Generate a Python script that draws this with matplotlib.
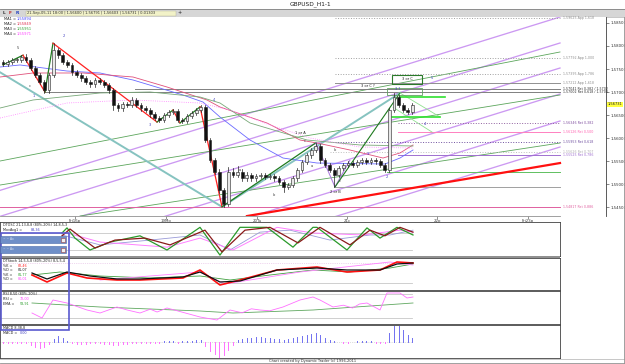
import matplotlib
matplotlib.use('Agg')
import matplotlib.pyplot as plt
from matplotlib.patches import Rectangle
from matplotlib.ticker import FuncFormatter

W, H = 625, 364

# ---------------- DATA ----------------
opens = [1.5765, 1.5761, 1.5765, 1.5770, 1.5770, 1.5776, 1.5770, 1.5752, 1.5737, 1.5722,
         1.5704, 1.5737, 1.5791, 1.5780, 1.5765, 1.5759, 1.5743, 1.5737, 1.5730, 1.5722,
         1.5717, 1.5726, 1.5722, 1.5715, 1.5704, 1.5672, 1.5665, 1.5674, 1.5672, 1.5683,
         1.5672, 1.5665, 1.5661, 1.5652, 1.5644, 1.5639, 1.5650, 1.5657, 1.5659, 1.5639,
         1.5637, 1.5648, 1.5655, 1.5661, 1.5668, 1.5596, 1.5553, 1.5527, 1.5487, 1.5457,
         1.5527, 1.5520, 1.5527, 1.5513, 1.5520, 1.5513, 1.5518, 1.5520, 1.5516, 1.5518,
         1.5513, 1.5505, 1.5494, 1.5498, 1.5513, 1.5531, 1.5548, 1.5563, 1.5574, 1.5583,
         1.5552, 1.5542, 1.5531, 1.5520, 1.5535, 1.5542, 1.5546, 1.5542, 1.5548, 1.5552,
         1.5548, 1.5552, 1.5550, 1.5542, 1.5531, 1.5661, 1.5689, 1.5672, 1.5661, 1.5657]
closes = [1.5761, 1.5765, 1.5770, 1.5770, 1.5776, 1.5770, 1.5752, 1.5737, 1.5722, 1.5704,
          1.5737, 1.5791, 1.5780, 1.5765, 1.5759, 1.5743, 1.5737, 1.5730, 1.5722, 1.5717,
          1.5726, 1.5722, 1.5715, 1.5704, 1.5672, 1.5665, 1.5674, 1.5672, 1.5683, 1.5672,
          1.5665, 1.5661, 1.5652, 1.5644, 1.5639, 1.5650, 1.5657, 1.5659, 1.5639, 1.5637,
          1.5648, 1.5655, 1.5661, 1.5668, 1.5596, 1.5553, 1.5527, 1.5487, 1.5457, 1.5527,
          1.5520, 1.5527, 1.5513, 1.5520, 1.5513, 1.5518, 1.5520, 1.5516, 1.5518, 1.5513,
          1.5505, 1.5494, 1.5498, 1.5513, 1.5531, 1.5548, 1.5563, 1.5574, 1.5583, 1.5552,
          1.5542, 1.5531, 1.5520, 1.5535, 1.5542, 1.5546, 1.5542, 1.5548, 1.5552, 1.5548,
          1.5552, 1.5550, 1.5542, 1.5531, 1.5661, 1.5689, 1.5672, 1.5661, 1.5657, 1.5672]
highs = [1.5770, 1.5770, 1.5775, 1.5775, 1.5781, 1.5782, 1.5775, 1.5757, 1.5742, 1.5727,
         1.5742, 1.5806, 1.5796, 1.5785, 1.5770, 1.5764, 1.5748, 1.5742, 1.5735, 1.5727,
         1.5731, 1.5731, 1.5727, 1.5720, 1.5709, 1.5677, 1.5679, 1.5679, 1.5690, 1.5688,
         1.5677, 1.5670, 1.5666, 1.5657, 1.5649, 1.5655, 1.5662, 1.5664, 1.5664, 1.5644,
         1.5653, 1.5660, 1.5666, 1.5673, 1.5673, 1.5601, 1.5558, 1.5532, 1.5492, 1.5537,
         1.5535, 1.5540, 1.5532, 1.5527, 1.5525, 1.5523, 1.5525, 1.5525, 1.5523, 1.5523,
         1.5518, 1.5510, 1.5503, 1.5518, 1.5536, 1.5553, 1.5568, 1.5579, 1.5590, 1.5588,
         1.5557, 1.5547, 1.5536, 1.5540, 1.5547, 1.5551, 1.5551, 1.5553, 1.5557, 1.5557,
         1.5557, 1.5557, 1.5555, 1.5547, 1.5666, 1.5698, 1.5694, 1.5677, 1.5666, 1.5677]
lows = [1.5756, 1.5756, 1.5760, 1.5765, 1.5765, 1.5765, 1.5747, 1.5732, 1.5717, 1.5699,
        1.5699, 1.5732, 1.5775, 1.5760, 1.5754, 1.5738, 1.5732, 1.5725, 1.5717, 1.5712,
        1.5712, 1.5717, 1.5710, 1.5699, 1.5661, 1.5660, 1.5660, 1.5667, 1.5667, 1.5667,
        1.5660, 1.5656, 1.5647, 1.5639, 1.5634, 1.5634, 1.5645, 1.5652, 1.5634, 1.5632,
        1.5632, 1.5643, 1.5650, 1.5656, 1.5591, 1.5548, 1.5522, 1.5482, 1.5451, 1.5452,
        1.5515, 1.5515, 1.5508, 1.5508, 1.5508, 1.5508, 1.5513, 1.5511, 1.5511, 1.5508,
        1.5500, 1.5483, 1.5489, 1.5493, 1.5508, 1.5526, 1.5543, 1.5558, 1.5569, 1.5547,
        1.5537, 1.5526, 1.5494, 1.5515, 1.5530, 1.5537, 1.5537, 1.5537, 1.5543, 1.5543,
        1.5543, 1.5545, 1.5537, 1.5526, 1.5526, 1.5656, 1.5667, 1.5656, 1.5652, 1.5652]

# moving averages (bar, price)
ma1_x = [-0.65, 3.70, 13.91, 21.09, 28.26, 39.13, 43.48, 47.17, 53.70, 60.87, 68.26, 83.04, 86.30, 89.13]
ma1_y = [1.57544, 1.57588, 1.57457, 1.57414, 1.57262, 1.56936, 1.56784, 1.56459, 1.55960, 1.55569, 1.55461, 1.55439, 1.55569, 1.55743]
ma2_x = [-0.65, 6.52, 17.39, 28.26, 35.65, 44.35, 47.17, 57.39, 64.57, 68.26, 75.43, 82.61, 86.30, 89.13]
ma2_y = [1.57327, 1.57414, 1.57414, 1.57327, 1.57110, 1.56828, 1.56676, 1.56329, 1.55960, 1.55895, 1.55743, 1.55569, 1.55678, 1.55852]
ma3_x = [-0.65, 6.52, 21.09, 31.96, 42.83, 47.17, 53.70, 66.09, 77.61, 89.13]
ma3_y = [1.56654, 1.56828, 1.56980, 1.57002, 1.56893, 1.56763, 1.56329, 1.55960, 1.55852, 1.55830]
ma4_x = [-0.65, 13.91, 28.26, 42.83, 49.35, 58.04, 66.74, 77.61, 89.13]
ma4_y = [1.56437, 1.56763, 1.56828, 1.56763, 1.56611, 1.56286, 1.56003, 1.55808, 1.55786]

# zigzag wave segments
zig_x = [0.0, 4.35, 9.13, 10.87, 33.48, 36.96, 38.48, 42.83, 47.61, 68.04]
zig_y = [1.5759, 1.5780, 1.5700, 1.5806, 1.5635, 1.5661, 1.5633, 1.5668, 1.5451, 1.5590]
wave2_x = [68.04, 72.17, 75.40]
wave2_y = [1.5590, 1.5494, 1.5552]
wave3_x = [72.17, 86.30]
wave3_y = [1.5494, 1.5698]
teal_x = [-0.65, 47.61, 86.30]
teal_y = [1.5743, 1.5451, 1.5698]
red_trend_x = [53.04, 121.09]
red_trend_y = [1.5431, 1.5546]

# fan / channel lines (start price at bar -0.65, end price at bar 121.09)
fan_start = [1.54867, 1.54303, 1.53760, 1.53196, 1.52610, 1.52046]
fan_end = [1.58629, 1.58065, 1.57522, 1.56958, 1.56372, 1.55808]
green_x0 = [-0.65, -0.65, 16.74]
green_y0 = [1.55504, 1.54983, 1.54311]
green_y1 = [1.57870, 1.56937, 1.55895]

# horizontal levels
lvl_price = [1.58607, 1.57739, 1.57392, 1.57197, 1.57067, 1.57002, 1.56329, 1.56134,
             1.55917, 1.55700, 1.55635, 1.55266, 1.54940, 1.54506]
lvl_start = [72.17, 72.17, 72.17, 72.17, 28.70, 9.13, 85.87, 85.87,
             72.17, 71.09, 85.87, 83.48, 72.17, -0.65]
lvl_color = ['#a0a0a0', '#a0a0a0', '#a0a0a0', '#909090', '#808080', '#808080', '#9060a0', '#ff80c0',
             '#7050a0', '#c0c0c0', '#a070d0', '#60c060', '#a0a0a0', '#e060a0']
lvl_style = [':', ':', ':', '-', '-', '-', ':', '-', ':', ':', '-', '-', '-', '-']
lvl_label = ['1,59625 App 1,618', '1,57792 App 1,000', '1,57395 App 1,786', '1,57212 App 1,618',
             '1,57041 Ret 0,382 / 1,5702', '1,57002 Ret 0,618 / 1,5700', '1,56346 Ret 0,382', '1,56126 Ret 0,500',
             '1,55953 Ret 0,618', '1,55626 Ret 0,707', '1,55525 Ret 0,786', '', '', '1,54817 Ret 0,886']
lvl_lcolor = ['#909090', '#909090', '#909090', '#909090', '#303030', '#303030', '#8050a0', '#ff60b0',
              '#7050a0', '#b0b0b0', '#a070d0', '#000000', '#000000', '#e060a0']

# wave labels
lab_text = ['5', '2', 'c', '1', '3', '4', 'a', 'b', '1 or A', 'c', 'b', 'a', 'c', '2 or B',
            '1', '2', '3 or C ?', '3 ?', '3 or C', '5', '4']
lab_x = [3.26, 13.26, 5.87, 6.74, 31.96, 45.87, 51.52, 58.91, 64.57, 65.65, 72.17, 67.17, 73.26, 72.17,
         79.35, 83.48, 79.35, 85.87, 87.83, 93.26, 91.74]
lab_y = [1.5796, 1.5822, 1.5713, 1.5691, 1.5629, 1.5683, 1.5531, 1.5477, 1.5611, 1.5594, 1.5574, 1.5540,
         1.5507, 1.5483, 1.5566, 1.5516, 1.5713, 1.5707, 1.5728, 1.5731, 1.5631]
lab_color = ['#404040', '#4040c0', '#404040', '#4040c0', '#4040c0', '#4040c0', '#404040', '#404040',
             '#202020', '#404040', '#404040', '#404040', '#404040', '#202020',
             '#4040c0', '#4040c0', '#202020', '#4040c0', '#202020', '#4040c0', '#4040c0']

price_ticks = [1.545, 1.550, 1.555, 1.560, 1.565, 1.570, 1.575, 1.580, 1.585]
date_ticks = [15.65, 35.43, 55.22, 74.78, 94.35, 114.13]
date_labels = ['Fri16p', '19Mo', '20Tu', '21c', '22p', 'Fri23p']
last_price = 1.56731

# oscillators
dtosc_g_x = [12.83, 13.91, 15.65, 18.91, 23.26, 29.78, 35.65, 42.83, 47.17, 51.52, 57.39, 63.04, 67.39, 68.26, 74.78, 79.13, 81.96, 85.65, 89.13]
dtosc_g_y = [80, 98, 62, 20, 48, 70, 20, 100, 2, 100, 100, 30, 100, 100, 20, 98, 62, 100, 73]
dtosc_r_x = [12.83, 14.57, 20.0, 24.35, 30.87, 36.30, 43.91, 47.61, 52.61, 58.04, 64.13, 68.91, 75.43, 79.78, 83.04, 86.30, 89.13]
dtosc_r_y = [70, 94, 27, 55, 62, 38, 90, 13, 90, 100, 45, 100, 38, 90, 70, 100, 83]
dtosc_l_x = [12.83, 21.09, 31.96, 42.83, 49.35, 55.87, 62.39, 71.09, 79.78, 84.13, 89.13]
dtosc_l_y = [73, 38, 55, 73, 20, 83, 90, 55, 73, 73, 90]
dtosc_p_x = [13.91, 21.09, 35.65, 42.83, 50.0, 59.57, 67.39, 78.26, 86.30, 89.13]
dtosc_p_y = [80, 48, 30, 62, 20, 100, 80, 73, 90, 83]

st_r_x = [6.30, 9.57, 13.91, 18.26, 24.78, 29.78, 39.13, 42.83, 47.17, 51.52, 59.57, 68.26, 74.78, 81.96, 85.65, 89.13]
st_r_y = [44, 23, 50, 35, 29, 29, 35, 59, 14, 29, 59, 68, 53, 59, 83, 80]
st_k_x = [6.30, 9.57, 13.91, 18.91, 24.78, 29.78, 39.13, 42.83, 47.17, 51.52, 59.57, 68.26, 74.78, 81.96, 85.65, 89.13]
st_k_y = [50, 32, 53, 41, 32, 32, 38, 53, 23, 26, 59, 65, 59, 59, 77, 80]
st_g_x = [6.30, 12.39, 21.09, 31.96, 42.83, 49.35, 58.04, 67.39, 75.43, 84.13, 89.13]
st_g_y = [44, 53, 41, 35, 41, 29, 44, 59, 53, 65, 77]
st_p_x = [21.09, 42.83, 48.26, 64.57, 84.13, 89.13]
st_p_y = [29, 53, 17, 53, 83, 74]

rsi_x = [6.30, 8.48, 10.87, 13.91, 18.26, 21.09, 24.78, 27.0, 29.78, 32.0, 33.5, 35.65, 42.83, 46.52, 49.35,
         52.0, 54.0, 55.87, 58.0, 60.87, 64.57, 67.39, 68.91, 71.74, 74.0, 76.0, 77.5, 79.13, 81.96, 83.48,
         86.30, 87.83, 89.13]
rsi_y = [32.5, 20, 65, 57.5, 40, 32.5, 47.5, 40, 32.5, 42, 35, 45, 22.5, 15, 40,
         33, 43, 40, 38, 47.5, 65, 72.5, 65, 47.5, 52, 45, 55, 57.5, 40, 82.5,
         82.5, 70, 72.5]
ema_x = [6.30, 21.09, 42.83, 50.0, 67.39, 89.13]
ema_y = [57.5, 47.5, 37.5, 32.5, 40, 57.5]

macd_hist = [-1, -1, -1, -1, -1, -1, -3, -5, -6, -5, -2, 3, 6, 4, 1, -1, -2, -2, -2, -1,
             -1, -1, -2, -2, -3, -3, -2, -2, -1, -1, -1, -1, -1, -1, -1, 1, 1, 1, -1, 1,
             1, 1, 2, 2, -4, -9, -12, -15, -13, -8, -3, 2, 3, 4, 4, 5, 5, 4, 4, 3,
             3, 2, 3, 4, 5, 6, 7, 8, 9, 7, 4, 2, 1, 0.5, -0.5, -0.5, 0.5, 1, 1, 1,
             1, -0.5, -0.5, -1, 9, 16, 16, 12, 7, 4]

# ---------------- FIGURE ----------------
plt.rcParams['font.family'] = ['DejaVu Sans']
fig = plt.figure(figsize=(6.25, 3.64), dpi=100)
fig.patch.set_facecolor('white')


def rect(x0, y0, x1, y1):
    return [x0 / W, 1 - y1 / H, (x1 - x0) / W, (y1 - y0) / H]


# overlay axes for chrome in pixel coordinates
chrome = fig.add_axes([0, 0, 1, 1], zorder=-5)
chrome.set_xlim(0, W)
chrome.set_ylim(H, 0)
chrome.axis('off')
chrome.add_patch(Rectangle((0, 9), W, 8, facecolor='#d6d6d6', edgecolor='none'))
chrome.plot([0, W], [9, 9], color='#808080', lw=0.6)
chrome.plot([0, W], [17, 17], color='#b0b0b0', lw=0.5)
chrome.text(310, 4.5, 'GBPUSD_H1-1', fontsize=4.2, ha='center', va='center', color='#202020')
chrome.text(3, 13, 'L', fontsize=3.2, color='#303030', va='center', weight='bold')
chrome.text(9, 13, 'F', fontsize=3.2, color='#c02020', va='center', weight='bold')
chrome.text(16, 13, 'R', fontsize=3.2, color='#2040c0', va='center', weight='bold')
chrome.add_patch(Rectangle((26, 10.5), 150, 5, facecolor='#f2f2c8', edgecolor='#b0b0a0', lw=0.3))
chrome.text(27, 13, '21-Sep-05-11 18:00 | 1,56600 | 1,56791 | 1,56603 | 1,56731 | 0,01303',
            fontsize=2.6, va='center', color='#303030')
chrome.text(180, 13, '+', fontsize=3.5, va='center', ha='center', color='#202020')

# ---------------- MAIN PRICE AXES ----------------
ax = fig.add_axes(rect(0, 17, 606, 216))
ax.set_xlim(-0.652, 131.09)
ax.set_ylim(1.54311, 1.58629)
ax.set_facecolor('white')
for s in ['top', 'left']:
    ax.spines[s].set_visible(False)
ax.spines['right'].set_color('#404040')
ax.spines['right'].set_linewidth(0.6)
ax.spines['bottom'].set_color('#909090')
ax.spines['bottom'].set_linewidth(0.6)
ax.spines['bottom'].set_bounds(-0.652, 121.09)
ax.yaxis.tick_right()
ax.set_yticks(price_ticks)
ax.yaxis.set_major_formatter(FuncFormatter(lambda v, p: ('%.5f' % v).replace('.', ',')))
ax.tick_params(axis='y', labelsize=2.8, length=2, width=0.4, pad=1, colors='#303030', direction='out')
ax.set_xticks(date_ticks)
ax.set_xticklabels(date_labels)
ax.tick_params(axis='x', labelsize=2.8, length=2, width=0.4, pad=0.5, colors='#404040', direction='out')

# fan lines (purple)
for a, b in zip(fan_start, fan_end):
    ax.plot([-0.65, 121.09], [a, b], color='#cc99f2', lw=0.95, zorder=1)
# green channel lines
for x0, y0, y1 in zip(green_x0, green_y0, green_y1):
    ax.plot([x0, 121.09], [y0, y1], color='#5ca65c', lw=0.6, zorder=1)

# horizontal levels
for p, s, c, ls, lab, lc in zip(lvl_price, lvl_start, lvl_color, lvl_style, lvl_label, lvl_lcolor):
    ax.plot([s, 121.09], [p, p], color=c, lw=0.7, ls=ls, zorder=1)
    if lab:
        ax.text(121.8, p, lab, fontsize=2.3, color=lc, va='center', ha='left')

# teal, red trend
ax.plot(teal_x, teal_y, color='#86c3c0', lw=1.4, zorder=2)
ax.plot(red_trend_x, red_trend_y, color='#ff1010', lw=1.6, zorder=2)

# moving averages
ax.plot(ma1_x, ma1_y, color='#6a6aff', lw=0.6, zorder=2)
ax.plot(ma2_x, ma2_y, color='#e0507a', lw=0.6, zorder=2)
ax.plot(ma3_x, ma3_y, color='#78a878', lw=0.6, zorder=2)
ax.plot(ma4_x, ma4_y, color='#ff80ff', lw=0.6, ls=':', zorder=2)

# zigzag segments
for i in range(len(zig_x) - 1):
    up = zig_y[i + 1] > zig_y[i]
    ax.plot(zig_x[i:i + 2], zig_y[i:i + 2], color='#1e7a1e' if up else '#ff2020', lw=0.9, zorder=3)
ax.plot(wave2_x, wave2_y, color='#b080e0', lw=0.8, zorder=3)
ax.plot(wave3_x, wave3_y, color='#1e7a1e', lw=0.8, zorder=3)

# triangle / boxes near the last swing
ax.plot([86.3, 95.0], [1.5698, 1.5646], color='#90e090', lw=0.6, zorder=3)
ax.plot([84.8, 93.3], [1.5667, 1.5613], color='#90e090', lw=0.6, zorder=3)
ax.plot([84.57, 95.0], [1.5646, 1.5646], color='#30e030', lw=1.2, zorder=3)
ax.plot([86.3, 96.1], [1.5689, 1.5689], color='#30e030', lw=1.2, zorder=3)
ax.add_patch(Rectangle((84.57, 1.5717), 6.52, 0.0020, facecolor='none', edgecolor='#2a7a2a', lw=0.8, zorder=3))
ax.add_patch(Rectangle((83.48, 1.5694), 7.61, 0.0015, facecolor='none', edgecolor='#60a060', lw=0.6, zorder=3))

# candles
for i, (o, h, l, c) in enumerate(zip(opens, highs, lows, closes)):
    ax.plot([i, i], [l, h], color='#202020', lw=0.5, zorder=4)
    bull = c >= o
    ax.bar(i, max(abs(c - o), 0.00008), bottom=min(o, c), width=0.62,
           color='#e8e8e8' if bull else '#111111', edgecolor='#202020', linewidth=0.4, zorder=5)

# wave labels
for t, x, y, c in zip(lab_text, lab_x, lab_y, lab_color):
    ax.text(x, y, t, fontsize=2.6, color=c, ha='center', va='center', zorder=6)

# MA legend
ma_names = ['MA1 = ', 'MA2 = ', 'MA3 = ', 'MA4 = ']
ma_vals = ['1,55894', '1,55849', '1,55951', '1,55971']
ma_cols = ['#4040ff', '#e03050', '#30a030', '#ff40ff']
for k in range(4):
    yy = 1.58629 - (2 + 5 * k) * 0.000217
    ax.text(0.2, yy, ma_names[k], fontsize=2.6, color='#202020', va='center')
    ax.text(3.0, yy, ma_vals[k], fontsize=2.6, color=ma_cols[k], va='center')

# last price tag
ax.text(1.002, last_price, '1,56731', transform=ax.get_yaxis_transform(), fontsize=2.6,
        va='center', ha='left', color='#202020',
        bbox=dict(boxstyle='square,pad=0.15', facecolor='#ffff40', edgecolor='none'))


# ---------------- SUB PANELS ----------------
def panel(y0, y1):
    a = fig.add_axes(rect(0, y0, 560, y1))
    a.set_xlim(-0.652, 121.09)
    a.set_xticks([])
    a.set_yticks([])
    for s in a.spines.values():
        s.set_color('#404040')
        s.set_linewidth(0.6)
    return a


def legend_line(a, y, name, val, col, xv):
    a.text(0.005, y, name, transform=a.transAxes, fontsize=2.4, color='#202020', va='center')
    a.text(xv, y, val, transform=a.transAxes, fontsize=2.4, color=col, va='center')


p1 = panel(222, 256)
p1.set_ylim(-1.2, 118.8)
for v in (80, 20):
    p1.axhline(v, xmin=0, xmax=89.5 / 121.7, color='#c8c8c8', lw=0.6)
p1.plot(dtosc_l_x, dtosc_l_y, color='#9a9ad8', lw=0.6)
p1.plot(dtosc_p_x, dtosc_p_y, color='#ff80ff', lw=0.7)
p1.plot(dtosc_g_x, dtosc_g_y, color='#2a9a2a', lw=0.9)
p1.plot(dtosc_r_x, dtosc_r_y, color='#8a1a1a', lw=0.9)
p1.text(0.005, 0.9, 'DTOSC 21,13,8,8 (80%-20%) 14,8,5,3', transform=p1.transAxes, fontsize=2.4, color='#202020', va='center')
legend_line(p1, 0.76, 'MovAvg1 = ', '88,36', '#4040c0', 0.055)

p2 = panel(258, 290)
p2.set_ylim(-1, 95)
p2.axhline(80, xmax=89.5 / 121.7, color='#e0b0e0', lw=0.5, ls=':')
p2.axhline(20, xmax=89.5 / 121.7, color='#c8c8c8', lw=0.6)
p2.plot(st_g_x, st_g_y, color='#40a040', lw=0.6)
p2.plot(st_p_x, st_p_y, color='#ff80ff', lw=0.6)
p2.plot(st_r_x, st_r_y, color='#ff1010', lw=1.2)
p2.plot(st_k_x, st_k_y, color='#101010', lw=0.9)
p2.text(0.005, 0.9, 'DTStoch 14,5,5,8 (80%-20%) 8,5,5,4', transform=p2.transAxes, fontsize=2.4, color='#202020', va='center')
st_names = ['%K = ', '%D = ', '%K = ', '%D = ']
st_vals = ['82,46', '81,07', '81,77', '80,01']
st_cols = ['#ff2020', '#202020', '#30a030', '#ff40ff']
for k in range(4):
    legend_line(p2, 0.75 - 0.14 * k, st_names[k], st_vals[k], st_cols[k], 0.032)

p3 = panel(291, 324)
p3.set_ylim(5, 87.5)
for v in (80, 20):
    p3.axhline(v, xmax=89.5 / 121.7, color='#c8c8c8', lw=0.6)
p3.plot(ema_x, ema_y, color='#60a860', lw=0.6)
p3.plot(rsi_x, rsi_y, color='#ff70ff', lw=0.6)
p3.text(0.005, 0.9, 'RSI 8,50 (80%-20%)', transform=p3.transAxes, fontsize=2.4, color='#202020', va='center')
legend_line(p3, 0.76, 'RSI = ', '72,00', '#ff40ff', 0.036)
legend_line(p3, 0.62, 'EMA = ', '58,91', '#30a030', 0.036)

p4 = panel(325, 358)
p4.set_ylim(-16, 17)
p4.axhline(0, xmax=89.5 / 121.7, color='#c0c0c0', lw=0.5, ls=':')
for i, v in enumerate(macd_hist):
    p4.plot([i, i], [0, v], color='#7070f0' if v > 0 else '#ff70ff', lw=0.7)
p4.text(0.005, 0.9, 'MACD 8,38,8', transform=p4.transAxes, fontsize=2.4, color='#202020', va='center')
legend_line(p4, 0.76, 'MACD = ', '0,00', '#4040c0', 0.036)

# separator band between panel 1 and 2
over = fig.add_axes([0, 0, 1, 1], zorder=20)
over.set_xlim(0, W)
over.set_ylim(H, 0)
over.axis('off')
over.add_patch(Rectangle((0, 256), 560, 2, facecolor='#909090', edgecolor='none'))
# blue overlay box with two dialog bars
over.add_patch(Rectangle((0.5, 233), 68.5, 97, facecolor='none', edgecolor='#5a5ad0', lw=1.2))
for yb in (236, 246):
    over.add_patch(Rectangle((0, yb), 66, 7, facecolor='#6f8fc8', edgecolor='#4a6aa8', lw=0.4))
    over.add_patch(Rectangle((61, yb + 1.5), 4, 4, facecolor='#f0f0f0', edgecolor='#a04040', lw=0.4))
    over.text(3, yb + 3.5, '~ ~ Ax', fontsize=2.2, color='#dde6f5', va='center')

# footer and frame
over.plot([0, 624], [359, 359], color='#b0b0b0', lw=0.5)
over.plot([624, 624], [17, 363], color='#909090', lw=0.6)
over.plot([0, 624], [363, 363], color='#909090', lw=0.6)
over.text(313, 361.2, 'Chart created by Dynamic Trader (c) 1996-2011', fontsize=2.6, ha='center', va='center', color='#303030')

fig.savefig('out.png', dpi=100)
